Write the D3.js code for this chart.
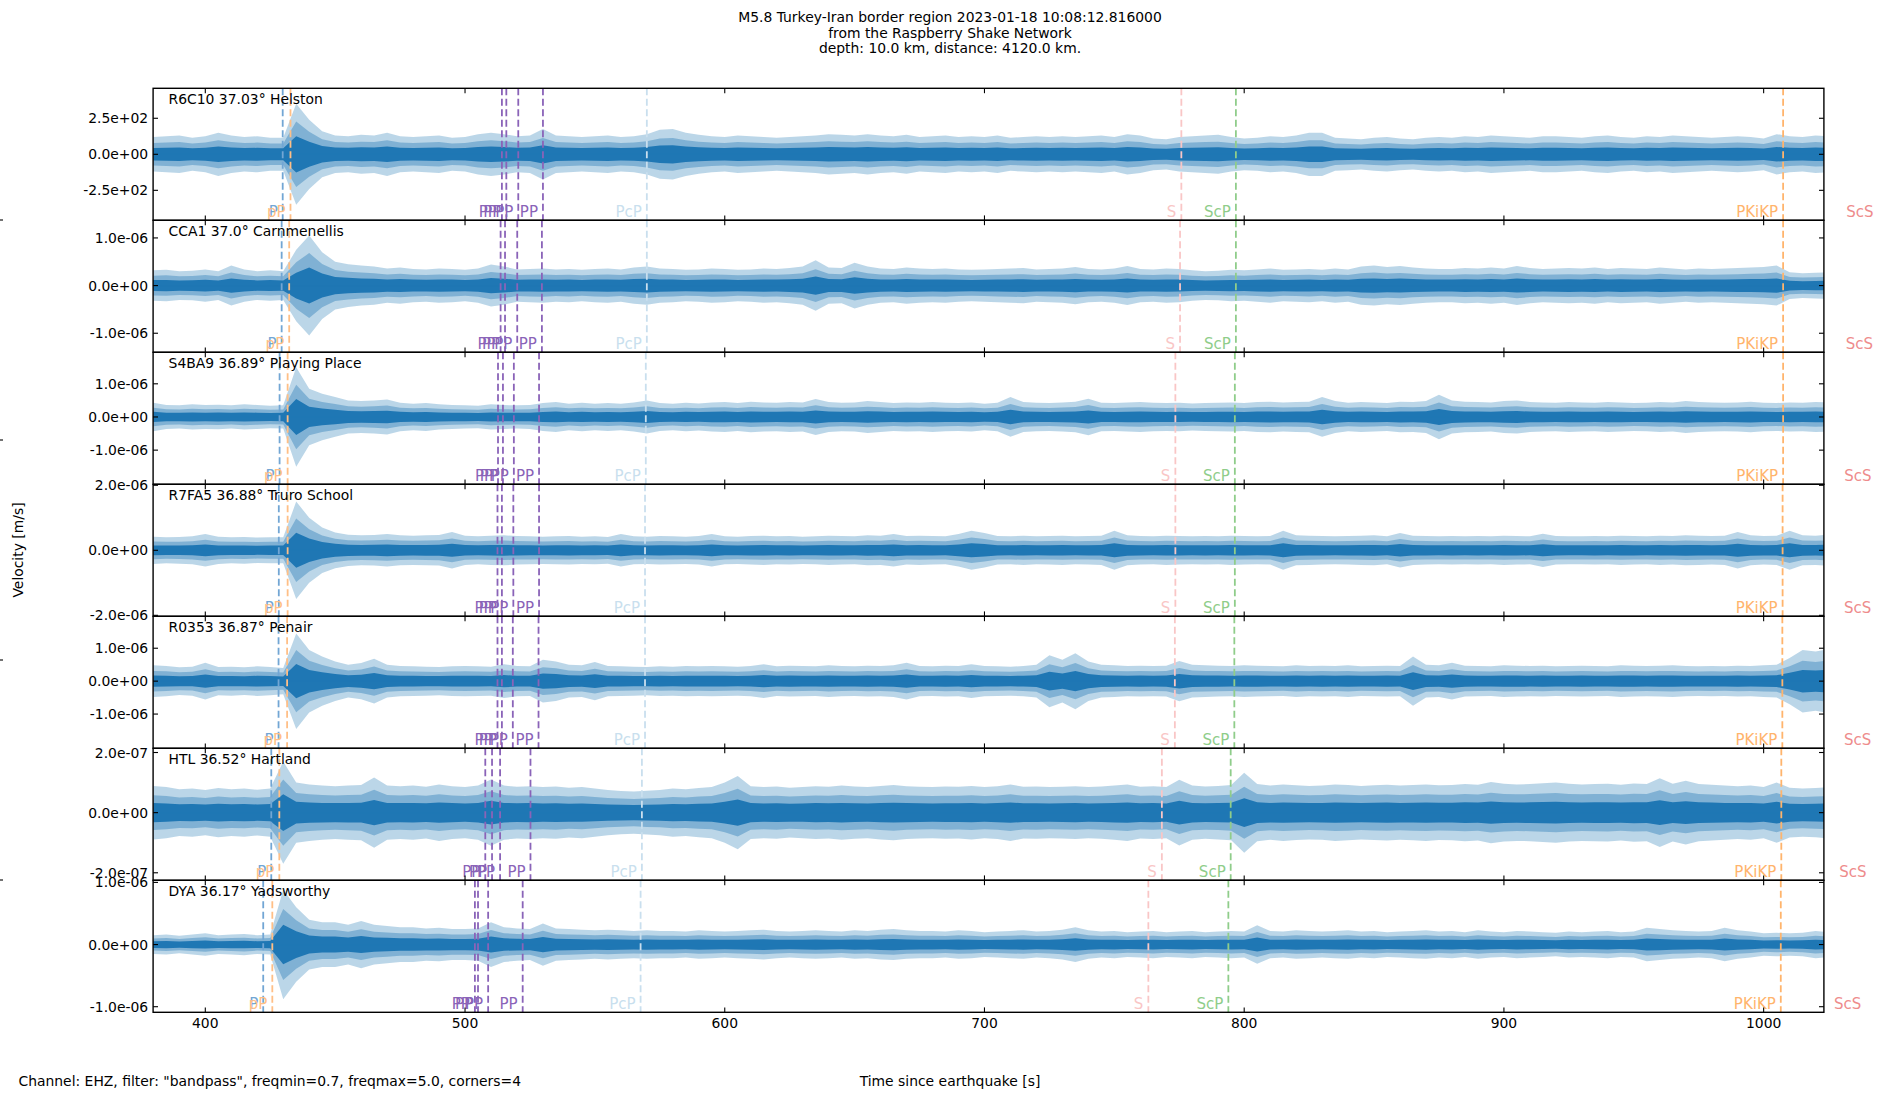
<!DOCTYPE html>
<html><head><meta charset="utf-8">
<script src="https://cdn.jsdelivr.net/npm/d3@7"></script>
<style>body{margin:0;background:#fff} text{font-family:"DejaVu Sans",sans-serif;fill:#000}</style>
</head><body><svg id="c" width="1900" height="1100"></svg>
<script>
// ---------------- data ----------------
const titleLines = ["M5.8 Turkey-Iran border region 2023-01-18 10:08:12.816000",
  "from the Raspberry Shake Network", "depth: 10.0 km, distance: 4120.0 km."];
const footerText = 'Channel: EHZ, filter: "bandpass", freqmin=0.7, freqmax=5.0, corners=4';
const xLabel = "Time since earthquake [s]";
const yLabel = "Velocity [m/s]";
const stations = ["R6C10 37.03° Helston", "CCA1 37.0° Carnmenellis", "S4BA9 36.89° Playing Place",
  "R7FA5 36.88° Truro School", "R0353 36.87° Penair", "HTL 36.52° Hartland", "DYA 36.17° Yadsworthy"];
const xDomain = [379.9, 1023.2];
const xTicks = [400, 500, 600, 700, 800, 900, 1000];
const yLimits = [[-458, 458], [-1.40e-6, 1.37e-6], [-2.03e-6, 1.95e-6], [-2.03e-6, 2.03e-6],
  [-2.04e-6, 1.97e-6], [-2.25e-7, 2.14e-7], [-1.09e-6, 1.034e-6]];
const yTickValues = [[-250, 0, 250], [-1e-6, 0, 1e-6], [-1e-6, 0, 1e-6], [-2e-6, 0, 2e-6],
  [-1e-6, 0, 1e-6], [-2e-7, 0, 2e-7], [-1e-6, 0, 1e-6]];
const yTickLabels = [["-2.5e+02", "0.0e+00", "2.5e+02"], ["-1.0e-06", "0.0e+00", "1.0e-06"],
  ["-1.0e-06", "0.0e+00", "1.0e-06"], ["-2.0e-06", "0.0e+00", "2.0e-06"],
  ["-1.0e-06", "0.0e+00", "1.0e-06"], ["-2.0e-07", "0.0e+00", "2.0e-07"],
  ["-1.0e-06", "0.0e+00", "1.0e-06"]];
// trace envelope: peak |amplitude| read every 5 s starting at 380 s, in units of envelopeUnit
const sampleStart = 380, sampleInterval = 5;
const envelopeUnit = [1, 1e-7, 1e-7, 1e-7, 1e-7, 1e-8, 1e-7];
const envR6C10 = [120,125,130,115,125,150,130,120,125,115, 115,350,240,160,130,125,135,130,150,125,
  120,125,130,115,120,140,150,140,125,130, 175,130,125,120,125,130,120,125,140,170,
  175,150,135,125,120,130,125,120,115,120, 125,130,140,135,130,140,130,125,135,120,
  125,130,120,125,120,130,115,120,125,120, 125,120,125,130,120,140,130,110,105,120,
  125,130,135,120,110,115,125,120,130,150, 150,115,110,105,115,120,110,105,115,120,
  115,125,120,130,125,120,115,125,125,120, 115,125,130,120,115,125,120,130,125,120,
  115,120,125,120,110,140,125,120,130,125];
const envCCA1 = [3.2,3.3,3.0,3.1,3.4,3.0,4.2,3.4,3.0,3.2, 3.0,7.5,10.5,7.0,5.0,4.5,4.2,4.0,3.6,3.8,
  3.5,3.4,3.6,3.5,3.3,3.6,4.4,4.0,3.4,3.5, 3.6,3.4,3.5,3.3,3.5,3.6,3.4,3.8,4.0,3.6,
  3.5,3.3,3.4,3.6,3.5,3.3,3.4,3.6,3.5,3.7, 4.0,5.3,3.8,3.7,4.8,4.0,3.6,3.5,3.8,3.6,
  3.5,3.6,3.4,3.3,3.4,3.5,3.6,3.7,3.4,3.5, 3.6,3.9,3.5,3.4,3.6,4.1,3.5,3.4,3.6,3.5,
  3.2,3.0,3.1,3.3,3.2,3.4,3.6,3.3,3.4,3.5, 3.3,3.6,3.4,4.0,4.2,3.9,4.1,3.8,3.6,3.5,
  3.5,3.7,3.6,3.8,3.6,4.1,3.7,3.5,3.6,3.7, 3.6,3.8,3.5,3.7,3.6,3.5,3.8,3.6,3.4,3.6,
  3.5,3.6,3.7,3.8,3.9,4.2,2.8,2.6,2.7,2.8];
const envS4BA9 = [4.3,3.6,3.5,3.8,3.6,3.7,3.5,3.8,3.6,3.4, 3.5,15.0,8.5,7.0,6.0,5.0,4.8,5.0,5.3,4.3,
  4.0,4.2,3.8,3.6,3.5,3.4,3.8,3.6,3.5,3.6, 4.2,4.5,4.0,4.3,4.0,4.2,4.0,4.4,5.0,4.2,
  4.0,4.3,4.1,4.4,4.5,4.2,4.6,4.4,4.3,4.5, 4.4,5.4,4.5,4.3,4.4,4.8,4.5,4.2,4.4,4.3,
  4.5,4.3,4.2,4.4,4.0,4.3,6.0,4.5,4.3,4.2, 4.4,4.6,5.5,4.3,4.2,4.4,4.5,4.3,4.2,4.3,
  4.1,4.2,4.3,4.4,4.2,4.5,4.6,4.4,4.5,4.6, 6.0,4.8,4.3,4.5,4.4,4.2,4.6,4.5,4.8,6.7,
  5.0,4.6,4.5,4.4,4.8,5.0,4.5,4.4,4.3,4.5, 4.4,4.3,4.5,4.4,4.2,4.3,4.5,4.4,4.8,4.5,
  4.4,4.3,4.4,4.6,4.3,4.2,4.4,4.3,4.5,4.4];
const envR7FA5 = [4.2,4.0,4.1,4.3,5.0,4.2,4.0,4.1,3.9,4.0, 4.0,15.0,10.0,7.0,5.5,4.8,4.6,4.7,5.0,4.6,
  4.5,4.6,4.7,5.6,4.5,4.3,4.5,4.6,4.4,4.3, 4.2,4.3,4.4,4.2,4.3,4.1,5.0,4.3,4.2,4.4,
  4.3,4.2,4.4,5.0,4.3,4.2,4.4,4.5,4.3,4.4, 4.2,4.3,4.5,4.4,4.3,4.6,4.5,5.0,4.4,4.5,
  4.4,4.3,5.0,6.0,5.3,4.4,4.3,4.5,4.3,4.4, 4.5,4.3,4.4,4.5,6.0,4.6,4.4,4.3,4.5,4.4,
  4.3,4.4,4.3,4.5,4.4,4.3,4.4,6.0,4.6,4.5, 4.4,4.3,4.4,4.5,4.6,4.3,5.3,4.5,4.4,4.3,
  4.4,4.3,4.4,4.3,4.5,4.4,4.3,5.1,4.4,4.3, 4.3,4.4,4.3,4.5,4.4,4.3,4.5,4.4,4.6,4.5,
  4.4,4.5,5.6,4.6,4.4,4.5,6.0,4.6,4.5,4.8];
const envR0353 = [4.8,4.6,4.2,4.4,5.6,4.3,4.4,4.2,4.5,4.3, 4.0,14.5,9.5,7.5,6.0,5.0,5.5,6.8,5.0,4.6,
  4.5,4.4,4.3,4.5,4.6,4.5,4.4,5.1,4.6,4.5, 6.5,6.0,5.0,4.8,5.8,4.6,4.5,4.4,4.3,4.5,
  4.4,4.6,4.5,4.6,4.5,4.4,4.6,5.1,4.5,4.7, 4.6,4.5,4.8,4.6,4.5,4.7,4.6,4.8,5.6,4.6,
  4.5,4.7,4.6,5.1,4.6,4.5,4.4,4.6,5.0,7.9, 6.5,8.5,6.0,5.0,4.8,4.6,4.7,4.6,4.7,6.1,
  5.0,4.8,4.7,4.6,4.8,4.7,4.6,4.5,4.8,4.6, 4.7,4.6,4.8,4.5,4.6,4.7,4.6,7.5,5.0,4.8,
  5.6,4.7,4.6,4.5,4.8,4.7,4.6,4.7,4.5,4.6, 4.7,4.6,4.5,4.8,4.7,4.6,4.7,4.8,4.6,4.5,
  4.6,4.5,4.7,4.6,4.8,5.0,7.0,9.5,9.0,9.7];
const envHTL = [8.9,8.5,7.8,8.0,7.5,8.2,7.8,8.0,7.6,8.0, 17.0,10.0,9.4,9.0,8.8,9.0,9.2,11.7,9.0,8.8,
  9.0,8.6,9.4,8.8,8.5,9.0,11.0,9.0,8.6,8.8, 8.5,8.7,8.3,8.5,8.0,7.5,7.2,7.0,7.3,7.5,
  8.0,7.8,8.2,8.5,10.0,12.2,8.8,8.5,8.7,8.3, 8.5,8.8,8.6,9.0,8.7,8.5,8.9,9.2,8.8,8.6,
  8.5,8.7,8.6,8.9,8.5,8.8,9.4,8.6,8.7,8.5, 8.6,8.8,8.5,8.7,9.0,9.4,8.6,8.8,8.5,10.9,
  9.0,8.7,8.9,9.2,13.3,9.5,9.0,9.4,9.1,8.9, 9.0,9.4,9.2,8.9,9.1,9.3,9.0,9.2,9.4,9.1,
  9.2,9.5,9.3,10.2,9.6,9.4,9.5,9.8,10.0,9.6, 9.4,9.5,9.6,9.3,9.7,9.5,11.4,9.6,10.6,9.5,
  9.3,9.0,8.8,9.0,8.5,10.0,8.3,8.0,8.2,8.5];
const envDYA = [1.5,1.6,1.4,1.6,1.8,1.5,1.6,1.7,1.5,1.6, 8.8,6.0,4.0,3.6,3.6,3.2,3.8,3.2,3.0,2.8,
  2.8,2.6,2.7,2.5,2.5,2.6,3.6,2.8,2.6,2.5, 3.4,2.6,2.5,2.4,2.3,2.4,2.3,2.2,2.3,2.2,
  2.2,2.1,2.3,2.2,2.1,2.2,2.3,2.4,2.2,2.1, 2.2,2.3,2.2,2.1,2.3,2.2,2.4,2.5,2.3,2.2,
  2.2,2.1,2.3,2.2,2.0,2.1,2.2,2.3,2.1,2.2, 2.4,2.8,2.3,2.1,2.2,2.0,2.1,2.2,2.0,2.1,
  2.2,2.0,2.1,2.2,2.1,3.1,2.2,2.1,2.3,2.2, 2.1,2.2,2.3,2.1,2.2,2.0,2.1,2.2,2.3,2.1,
  2.2,2.0,2.3,2.1,2.0,2.2,2.1,2.0,1.9,2.1, 2.0,2.1,2.2,2.0,2.1,2.7,2.5,2.3,2.2,2.1,
  2.2,2.7,2.3,2.1,1.8,1.9,1.8,1.9,2.2,2.0];
const envelopes = [envR6C10, envCCA1, envS4BA9, envR7FA5, envR0353, envHTL, envDYA];
// phase arrivals (s) per station
const phaseNames = ["P", "pP", "PP", "PP", "PP", "PP", "PcP", "S", "ScP", "PKiKP", "ScS"];
const phaseColors = ["#72a6d4", "#ffbf86", "#8a63b8", "#8a63b8", "#8a63b8", "#8a63b8", "#c9dfee",
  "#f9c6c6", "#8fcd8a", "#ffb46c", "#ee8c8c"];
const arrivals = [
  [429.8, 432.8, 514.2, 515.9, 520.5, 530.0, 570.0, 775.8, 796.8, 1007.5, 1044.2],
  [429.4, 432.3, 513.7, 515.4, 520.1, 529.6, 570.0, 775.3, 796.8, 1007.5, 1044.0],
  [428.6, 431.7, 512.7, 514.6, 518.8, 528.5, 569.6, 773.5, 796.4, 1007.5, 1043.5],
  [428.3, 431.7, 512.5, 514.2, 518.6, 528.5, 569.3, 773.5, 796.4, 1007.3, 1043.4],
  [428.2, 431.5, 512.5, 514.2, 518.4, 528.3, 569.3, 773.3, 796.2, 1007.2, 1043.4],
  [425.4, 428.5, 507.8, 510.4, 513.5, 525.2, 568.1, 768.3, 794.8, 1006.8, 1041.5],
  [422.3, 425.8, 503.8, 505.0, 508.9, 522.2, 567.6, 763.1, 793.9, 1006.6, 1039.5]];

// ---------------- layout ----------------
const W = 1900, H = 1100;
const plotLeft = 153.1, plotRight = 1823.9, plotTop = 88.3, panelH = 132;
const traceColor = "#1f77b4";
// tonal layers approximating the density of the dense trace: [fraction of envelope, opacity]
const bandLayers = [[1.0, 0.3], [0.65, 0.38], [0.36, 1.0]];
const svg = d3.select("#c");
const x = d3.scaleLinear().domain(xDomain).range([plotLeft, plotRight]);

svg.append("g").selectAll("text").data(titleLines).join("text")
  .attr("x", W / 2).attr("y", (d, i) => 22 + i * 15.7).attr("text-anchor", "middle")
  .attr("font-size", 13.9).text(d => d);

svg.append("g").selectAll("line").data([0.8, 0.6, 0.4, 0.2]).join("line")
  .attr("x1", 0).attr("x2", 3).attr("y1", d => H * (1 - d)).attr("y2", d => H * (1 - d))
  .attr("stroke", "#000").attr("stroke-width", 1.1);

stations.forEach((name, k) => {
  const y0 = plotTop + k * panelH, y1 = y0 + panelH;
  const y = d3.scaleLinear().domain(yLimits[k]).range([y1, y0]);
  const g = svg.append("g");
  const clipId = "clip" + k;
  g.append("clipPath").attr("id", clipId).append("rect")
    .attr("x", plotLeft).attr("y", y0).attr("width", plotRight - plotLeft).attr("height", panelH);
  const env = envelopes[k].map((v, i) => ({ t: sampleStart + i * sampleInterval, a: v * envelopeUnit[k] }));
  const plot = g.append("g").attr("clip-path", `url(#${clipId})`);
  bandLayers.forEach(([f, op]) => {
    const area = d3.area().x(d => x(d.t)).y0(d => y(-d.a * f)).y1(d => y(d.a * f));
    plot.append("path").datum(env).attr("d", area).attr("fill", traceColor).attr("fill-opacity", op);
  });
  plot.append("line").attr("x1", plotLeft).attr("x2", plotRight).attr("y1", y(0)).attr("y2", y(0))
    .attr("stroke", traceColor).attr("stroke-width", 1);

  plot.selectAll("line.ph").data(arrivals[k]).join("line").attr("class", "ph")
    .attr("x1", d => x(d)).attr("x2", d => x(d)).attr("y1", y0).attr("y2", y1)
    .attr("stroke", (d, i) => phaseColors[i]).attr("stroke-width", 1.8)
    .attr("stroke-dasharray", "7,3.5");
  g.selectAll("text.ph").data(arrivals[k]).join("text").attr("class", "ph")
    .attr("x", d => x(d) - 5).attr("y", y1 - 3.5).attr("text-anchor", "end")
    .attr("font-size", 15).style("fill", (d, i) => phaseColors[i]).text((d, i) => phaseNames[i]);

  g.append("text").attr("x", plotLeft + 15.5).attr("y", y0 + 15.5).attr("font-size", 13.9).text(name);

  const tk = 4.9;
  g.selectAll("line.xt").data(xTicks).join("line").attr("class", "xt")
    .attr("x1", d => x(d)).attr("x2", d => x(d)).attr("y1", y1).attr("y2", y1 - tk)
    .attr("stroke", "#000").attr("stroke-width", 1.1);
  g.selectAll("line.xt2").data(xTicks).join("line").attr("class", "xt2")
    .attr("x1", d => x(d)).attr("x2", d => x(d)).attr("y1", y0).attr("y2", y0 + tk)
    .attr("stroke", "#000").attr("stroke-width", 1.1);
  g.selectAll("line.yt").data(yTickValues[k]).join("line").attr("class", "yt")
    .attr("x1", plotLeft).attr("x2", plotLeft + tk).attr("y1", d => y(d)).attr("y2", d => y(d))
    .attr("stroke", "#000").attr("stroke-width", 1.1);
  g.selectAll("line.yt2").data(yTickValues[k]).join("line").attr("class", "yt2")
    .attr("x1", plotRight).attr("x2", plotRight - tk).attr("y1", d => y(d)).attr("y2", d => y(d))
    .attr("stroke", "#000").attr("stroke-width", 1.1);
  g.selectAll("text.yl").data(yTickValues[k]).join("text").attr("class", "yl")
    .attr("x", plotLeft - 4.9).attr("y", d => y(d)).attr("dy", "0.36em").attr("text-anchor", "end")
    .attr("font-size", 13.9).text((d, i) => yTickLabels[k][i]);

  g.append("rect").attr("x", plotLeft).attr("y", y0).attr("width", plotRight - plotLeft).attr("height", panelH)
    .attr("fill", "none").attr("stroke", "#000").attr("stroke-width", 1.4);

  if (k === stations.length - 1) {
    g.selectAll("text.xl").data(xTicks).join("text").attr("class", "xl")
      .attr("x", d => x(d)).attr("y", y1 + 15.5).attr("text-anchor", "middle")
      .attr("font-size", 13.9).text(d => d);
  }
});

svg.append("text").attr("x", 18.5).attr("y", 1086).attr("font-size", 13.9).text(footerText);
svg.append("text").attr("x", W / 2).attr("y", 1086).attr("text-anchor", "middle").attr("font-size", 13.9).text(xLabel);
svg.append("text").attr("transform", `translate(23,${H / 2}) rotate(-90)`).attr("text-anchor", "middle")
  .attr("font-size", 13.9).text(yLabel);
</script></body></html>
